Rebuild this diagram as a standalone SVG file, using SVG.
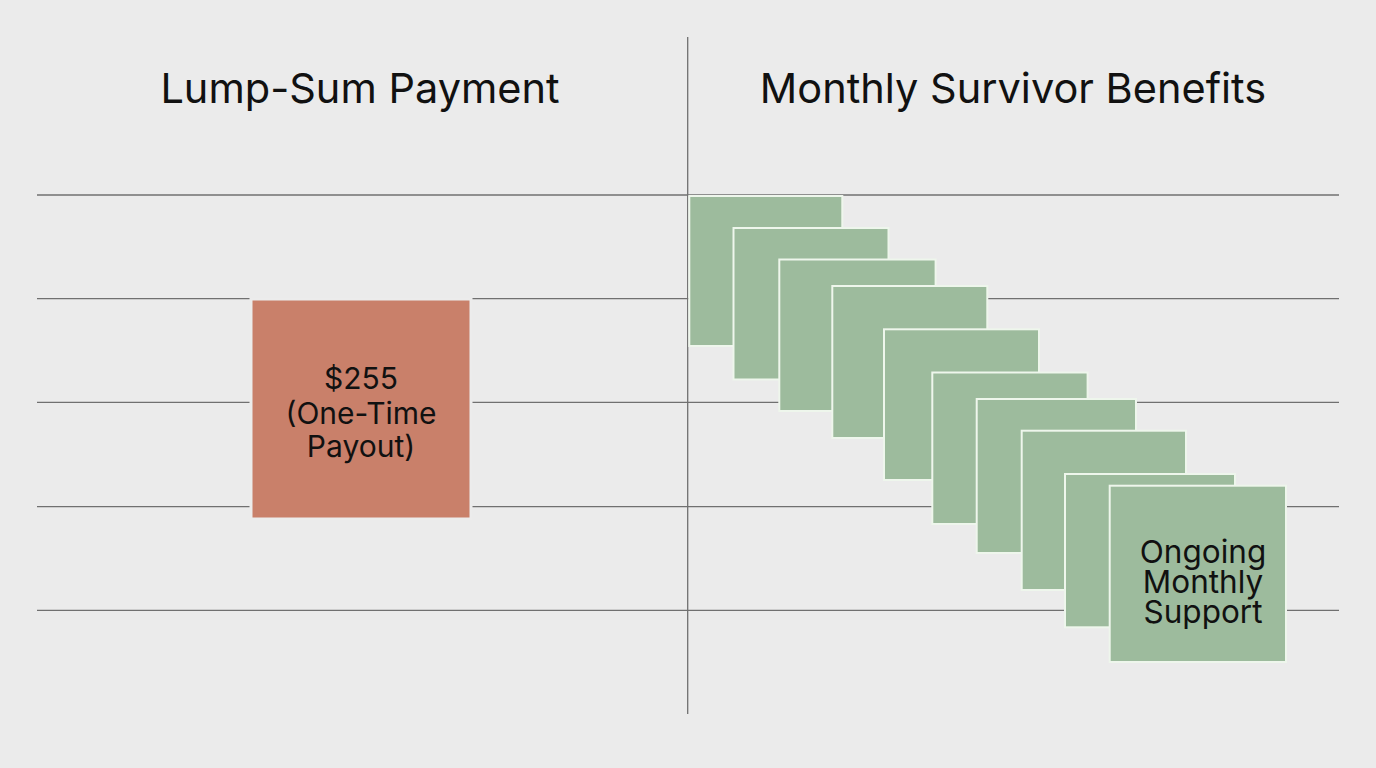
<svg xmlns="http://www.w3.org/2000/svg" width="1376" height="768" viewBox="0 0 1376 768">
  <style>
    .grid { stroke: #707070; stroke-width: 1.3; fill: none; }
    .title { font-family: Inter, "Noto Sans", sans-serif; font-size: 41.5px; fill: #111; text-anchor: middle; }
    .label { font-family: Inter, "Noto Sans", sans-serif; font-size: 30px; fill: #111; text-anchor: middle; }
    .label2 { font-family: Inter, "Noto Sans", sans-serif; font-size: 31.5px; fill: #111; text-anchor: middle; }
    .month { fill: #9dbb9d; stroke: #eef6ec; stroke-width: 2; }
    .lump { fill: #c9806a; stroke: #ececec; stroke-width: 3; }
  </style>
  <rect x="0" y="0" width="1376" height="768" fill="#ebebeb"/>
  <g id="grid">
    <line class="grid" x1="37" y1="195" x2="1339" y2="195"/>
    <line class="grid" x1="37" y1="298.7" x2="1339" y2="298.7"/>
    <line class="grid" x1="37" y1="402.3" x2="1339" y2="402.3"/>
    <line class="grid" x1="37" y1="506.7" x2="1339" y2="506.7"/>
    <line class="grid" x1="37" y1="610.3" x2="1339" y2="610.3"/>
    <line class="grid" x1="687.7" y1="37" x2="687.7" y2="714"/>
  </g>
  <g id="title-lump">
    <text class="title" x="360" y="103">Lump-Sum Payment</text>
  </g>
  <g id="title-monthly">
    <text class="title" x="1013" y="103">Monthly Survivor Benefits</text>
  </g>
  <g id="lump-sum">
    <rect class="lump" x="251" y="299" width="220" height="220"/>
    <text class="label" x="361" y="389">$255</text>
    <text class="label" x="361" y="423.5">(One-Time</text>
    <text class="label" x="361" y="457">Payout)</text>
  </g>
  <g id="monthly-payments">
    <rect class="month" x="689.3" y="196" width="153" height="150"/>
    <rect class="month" x="733.5" y="228" width="155" height="151.5"/>
    <rect class="month" x="779.3" y="259.5" width="156.3" height="151.5"/>
    <rect class="month" x="832.3" y="286" width="155" height="152"/>
    <rect class="month" x="884" y="329.3" width="155" height="150.7"/>
    <rect class="month" x="932.3" y="372.5" width="155.3" height="151.5"/>
    <rect class="month" x="976.7" y="399" width="159.3" height="154"/>
    <rect class="month" x="1021.7" y="430.7" width="164.3" height="159.3"/>
    <rect class="month" x="1065" y="474" width="170" height="153.3"/>
    <rect class="month" x="1109.7" y="485.7" width="176.3" height="176.3"/>
    <text class="label2" x="1203" y="562.5">Ongoing</text>
    <text class="label2" x="1203" y="593">Monthly</text>
    <text class="label2" x="1203" y="623">Support</text>
  </g>
</svg>
